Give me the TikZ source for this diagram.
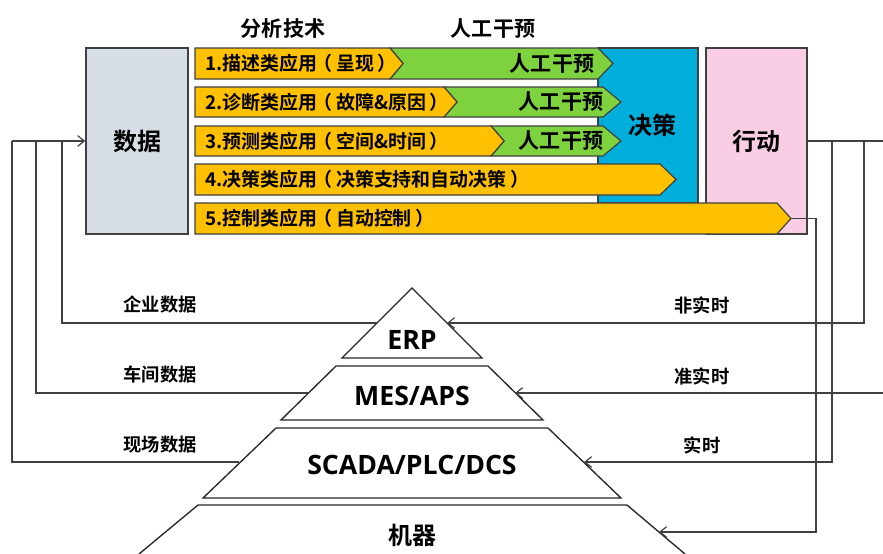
\documentclass[tikz,border=0pt]{standalone}
\usepackage{fontspec}
\setmainfont{Noto Sans CJK SC}[BoldFont={Noto Sans CJK SC Bold}]
\newfontfamily\latinbold{Open Sans}[UprightFont={* Bold}]
\usetikzlibrary{arrows.meta,fit}
\definecolor{orangeb}{HTML}{FFC000}
\definecolor{greenb}{HTML}{7ED23E}
\definecolor{blueb}{HTML}{00AEDC}
\definecolor{pinkb}{HTML}{F9CEE4}
\definecolor{grayb}{HTML}{D7DDE5}
\definecolor{linec}{HTML}{404040}
\newcommand{\lpr}{\makebox[1em][l]{\kern-0.2em（}}
\newcommand{\rpr}{\makebox[1em][l]{\kern0.2em）}}
\tikzset{
  box/.style={draw=linec, line width=1.1pt, inner sep=0pt},
  bar/.style={draw=linec, line width=0.9pt},
  conn/.style={draw=linec, line width=1.1pt},
  arr/.style={conn, -{Straight Barb[length=5pt,width=8pt,line width=0.9pt]}},
  tier/.style={draw=black!85, line width=1pt, fill=white},
  lbl/.style={font=\bfseries\fontsize{14.2pt}{16pt}\selectfont, inner sep=0pt},
  big/.style={font=\bfseries\fontsize{18pt}{20pt}\selectfont, inner sep=0pt},
  head/.style={font=\bfseries\fontsize{15.8pt}{18pt}\selectfont, inner sep=0pt},
  side/.style={font=\bfseries\fontsize{13.7pt}{16pt}\selectfont, inner sep=0pt},
  pyr/.style={font=\latinbold\fontsize{20pt}{22pt}\selectfont, inner sep=0pt},
  pyrc/.style={font=\bfseries\fontsize{18pt}{20pt}\selectfont, inner sep=0pt},
}
\begin{document}
\begin{tikzpicture}[x=0.75pt,y=-0.75pt]
\useasboundingbox (0,0) rectangle (883,554);
% boxes
\node[box, fill=grayb, fit={(86,48) (188,234)}] (data) {};
\node[big] at (data.center) {数据};
\node[box, fill=blueb, fit={(598,48) (698,203)}] (dec) {};
\node[big] at (652,125) {决策};
\node[box, fill=pinkb, fit={(706,48) (807,234)}] (act) {};
\node[big] at (act.center) {行动};
% headings
\node[head] (h1) at (283,29) {分析技术};
\node[head] (h2) at (493,29) {人工干预};
% bar 1
\draw[bar, fill=greenb] (390,48) -- (598,48) -- (613,63.5) -- (598,79) -- (390,79) -- (403,63.5) -- cycle;
\draw[bar, fill=orangeb] (195,48) -- (390,48) -- (403,63.5) -- (390,79) -- (195,79) -- cycle;
\node[lbl, anchor=west] (b1) at (205,63.5) {1.描述类应用\lpr 呈现\rpr};
\node[head] (g1) at (552,63.5) {人工干预};
% bar 2
\draw[bar, fill=greenb] (444,87) -- (603,87) -- (621,102) -- (603,117) -- (444,117) -- (457,102) -- cycle;
\draw[bar, fill=orangeb] (195,87) -- (444,87) -- (457,102) -- (444,117) -- (195,117) -- cycle;
\node[lbl, anchor=west] (b2) at (205,102) {2.诊断类应用\lpr 故障\&原因\rpr};
\node[head] (g2) at (561,102) {人工干预};
% bar 3
\draw[bar, fill=greenb] (491,126) -- (603,126) -- (621,141) -- (603,156) -- (491,156) -- (504,141) -- cycle;
\draw[bar, fill=orangeb] (195,126) -- (491,126) -- (504,141) -- (491,156) -- (195,156) -- cycle;
\node[lbl, anchor=west] (b3) at (205,141) {3.预测类应用\lpr 空间\&时间\rpr};
\node[head] (g3) at (561,141) {人工干预};
% bar 4
\draw[bar, fill=orangeb] (195,164) -- (660,164) -- (676,179.5) -- (660,195) -- (195,195) -- cycle;
\node[lbl, anchor=west] (b4) at (205,179.5) {4.决策类应用\lpr 决策支持和自动决策\rpr};
% bar 5
\draw[bar, fill=orangeb] (195,203) -- (777,203) -- (791,218.5) -- (777,234) -- (195,234) -- cycle;
\node[lbl, anchor=west] (b5) at (205,218.5) {5.控制类应用\lpr 自动控制\rpr};
\coordinate (tip5) at (791,218.5);
% pyramid
\draw[tier] (412,288) -- (482,358) -- (342,358) -- cycle;
\node[pyr] (erp) at (412,340) {ERP};
\draw[tier] (336,366) -- (488,366) -- (543,420) -- (281,420) -- cycle;
\node[pyr] (mes) at (412,396) {MES/APS};
\draw[tier] (276,428) -- (548,428) -- (621,498) -- (203,498) -- cycle;
\node[pyr] (scada) at (412,465) {SCADA/PLC/DCS};
\draw[tier] (139,554) -- (198,505) -- (627,505) -- (685,554);
\node[pyrc] (mach) at (412,535) {机器};
% edge points
\coordinate (erpL) at (377,323);
\coordinate (mesL) at (308,393);
\coordinate (scaL) at (239,462);
\coordinate (erpR) at (447,323);
\coordinate (mesR) at (515,393);
\coordinate (scaR) at (584,462);
\coordinate (machR) at (659,532);
% left connectors
\draw[conn] (erpL) -| (62,141);
\draw[conn] (mesL) -| (36,141);
\draw[conn] (scaL) -| (12,141);
\draw[arr] (12,141) -- (data.west);
% right connectors
\coordinate (redge) at (883,141);
\draw[conn] (act.east) -- (redge);
\draw[arr] (864,141) |- (erpR);
\draw[arr] (832,141) |- (scaR);
\draw[arr] (883,393) -- (mesR);
\draw[arr] (tip5) -- (816,218.5) |- (machR);
% side labels
\node[side] (l1) at (160,305) {企业数据};
\node[side] (l2) at (160,375) {车间数据};
\node[side] (l3) at (160,445) {现场数据};
\node[side] (r1) at (702,305) {非实时};
\node[side] (r2) at (702,376) {准实时};
\node[side] (r3) at (702,445) {实时};
\end{tikzpicture}
\end{document}
